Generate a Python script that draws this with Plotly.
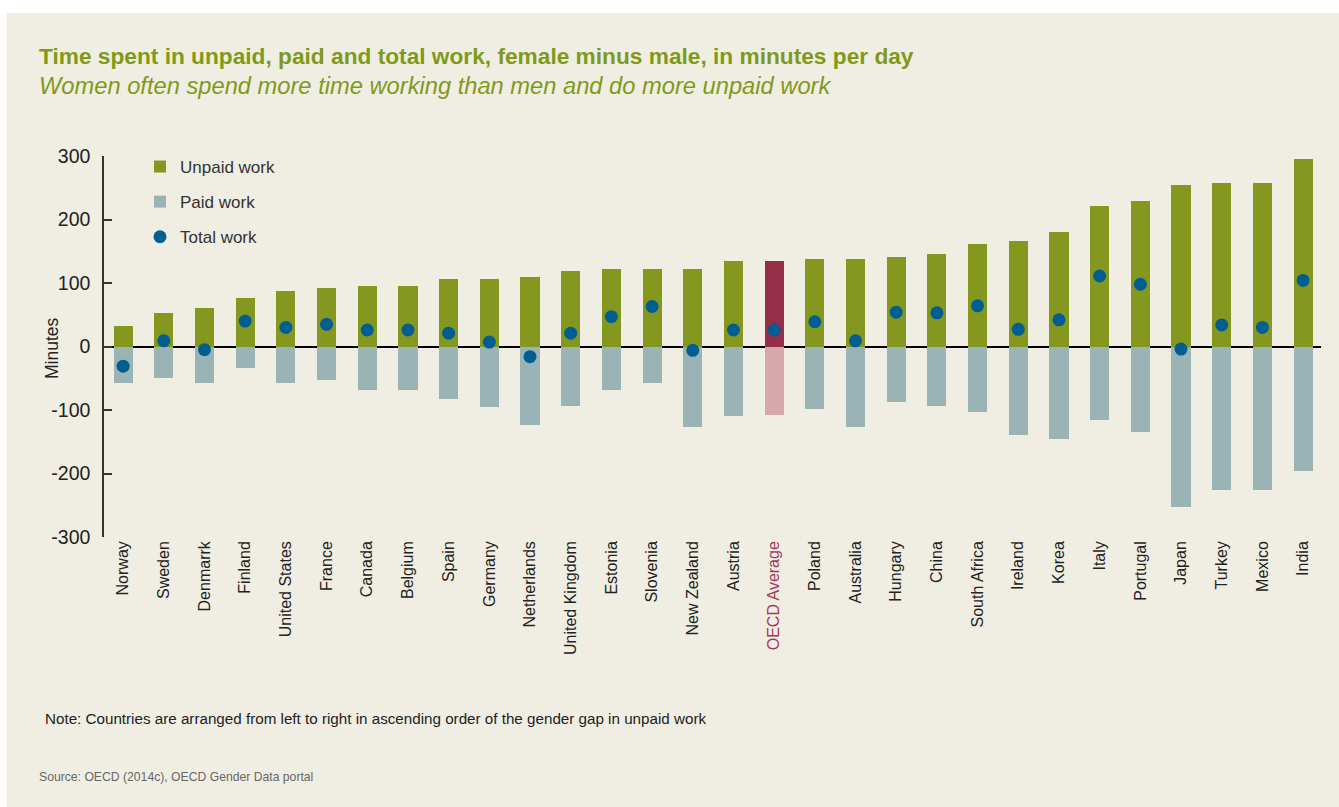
import plotly.graph_objects as go

# Gender gap (female minus male), minutes per day
countries = [
    "Norway", "Sweden", "Denmarrk", "Finland", "United States", "France", "Canada",
    "Belgium", "Spain", "Germany", "Netherlands", "United Kingdom", "Estonia",
    "Slovenia", "New Zealand", "Austria", "OECD Average", "Poland", "Australia",
    "Hungary", "China", "South Africa", "Ireland", "Korea", "Italy", "Portugal",
    "Japan", "Turkey", "Mexico", "India",
]
unpaid_work = [33, 52, 60, 76, 87, 92, 95, 95, 106, 106, 110, 119, 122, 122, 122,
               135, 135, 138, 138, 141, 146, 162, 166, 180, 221, 229, 255, 258, 258, 296]
paid_work = [-58, -49, -58, -34, -58, -53, -69, -69, -82, -95, -123, -94, -69, -58,
             -127, -109, -108, -98, -127, -87, -93, -103, -140, -145, -116, -134,
             -252, -226, -226, -196]
total_work = [-31, 9, -5, 40, 30, 35, 26, 26, 21, 7, -16, 21, 47, 63, -6, 26, 26,
              39, 9, 54, 53, 64, 27, 42, 111, 98, -4, 34, 30, 104]
y_ticks = [-300, -200, -100, 0, 100, 200, 300]
y_tick_text = ["-300", "-200", "-100", "0", "100", "200", "300"]

avg_name = "OECD Average"
GREEN = "#84981f"
PAID = "#9ab3b5"
DOT = "#005e91"
AVG_DARK = "#952e49"
AVG_LIGHT = "#d5a8ab"
TITLE_GREEN = "#7f9a1a"
BG = "#f0eee2"
FONT = "Liberation Sans"

x_idx = list(range(len(countries)))
unpaid_colors = [AVG_DARK if c == avg_name else GREEN for c in countries]
paid_colors = [AVG_LIGHT if c == avg_name else PAID for c in countries]
tick_text = [f'<span style="color:#a3385a">{c}</span>' if c == avg_name else c
             for c in countries]

fig = go.Figure()
fig.add_trace(go.Bar(
    x=x_idx, y=unpaid_work, name="Unpaid work", marker_color=unpaid_colors,
    marker_line_width=0, width=0.47, legendgroup="a",
))
fig.add_trace(go.Bar(
    x=x_idx, y=paid_work, name="Paid work", marker_color=paid_colors,
    marker_line_width=0, width=0.47, legendgroup="b",
))
fig.add_trace(go.Scatter(
    x=x_idx, y=total_work, name="Total work", mode="markers",
    marker=dict(color=DOT, size=13), legendgroup="c",
))

# plot area in pixels: x 104..1321, y 156..537
L, R, T, B = 104, 1321, 156, 537
W, H = R - L, B - T


def px(xp):
    return (xp - L) / W


def py(yp):
    return (B - yp) / H


fig.add_shape(type="rect", xref="paper", yref="paper", x0=px(7), x1=px(1400),
              y0=py(900), y1=py(13), fillcolor=BG, line_width=0, layer="below")

annotations = [
    dict(text="<b>Time spent in unpaid, paid and total work, female minus male, in minutes per day</b>",
         x=px(37), y=py(56), font=dict(size=22.7, color=TITLE_GREEN, family=FONT)),
    dict(text="<i>Women often spend more time working than men and do more unpaid work</i>",
         x=px(37), y=py(86), font=dict(size=23.7, color=TITLE_GREEN, family=FONT)),
    dict(text="Note: Countries are arranged from left to right in ascending order of the gender gap in unpaid work",
         x=px(43), y=py(718), font=dict(size=15.2, color="#222222", family=FONT)),
    dict(text="Source: OECD (2014c), OECD Gender Data portal",
         x=px(37), y=py(777), font=dict(size=12.2, color="#666666", family=FONT)),
]
for a in annotations:
    a.update(xref="paper", yref="paper", xanchor="left", yanchor="middle", showarrow=False)
annotations.append(dict(
    text="Minutes", xref="paper", yref="paper", x=px(52), y=py(348), textangle=-90,
    xanchor="center", yanchor="middle", showarrow=False,
    font=dict(size=17.5, color="#222222", family=FONT),
))

fig.update_layout(
    width=1339, height=807,
    margin=dict(l=L, r=1339 - R, t=T, b=807 - B, pad=0),
    paper_bgcolor="white", plot_bgcolor="rgba(0,0,0,0)",
    barmode="overlay", bargap=0,
    font=dict(family=FONT, color="#222222"),
    annotations=annotations,
    showlegend=True,
    legend=dict(
        x=px(140), y=py(149), xanchor="left", yanchor="top",
        bgcolor="rgba(0,0,0,0)", font=dict(size=17, color="#333333", family=FONT),
        tracegroupgap=10, traceorder="grouped",
    ),
    xaxis=dict(
        range=[-0.47, len(countries) - 1 + 0.44],
        tickmode="array", tickvals=x_idx, ticktext=tick_text, tickangle=-90,
        tickfont=dict(size=16, color="#222222", family=FONT),
        showgrid=False, zeroline=False, showline=False, ticks="",
    ),
    yaxis=dict(
        range=[-300, 300], tickmode="array", tickvals=y_ticks, ticktext=y_tick_text,
        tickfont=dict(size=19.5, color="#222222", family=FONT),
        showgrid=False, zeroline=True, zerolinecolor="#000000", zerolinewidth=1.5,
        showline=True, linecolor="#333333", linewidth=1.5,
        ticks="inside", ticklen=8, tickwidth=1.5, tickcolor="#333333",
        ticklabelstandoff=8,
    ),
)

fig.write_html("out.html")
